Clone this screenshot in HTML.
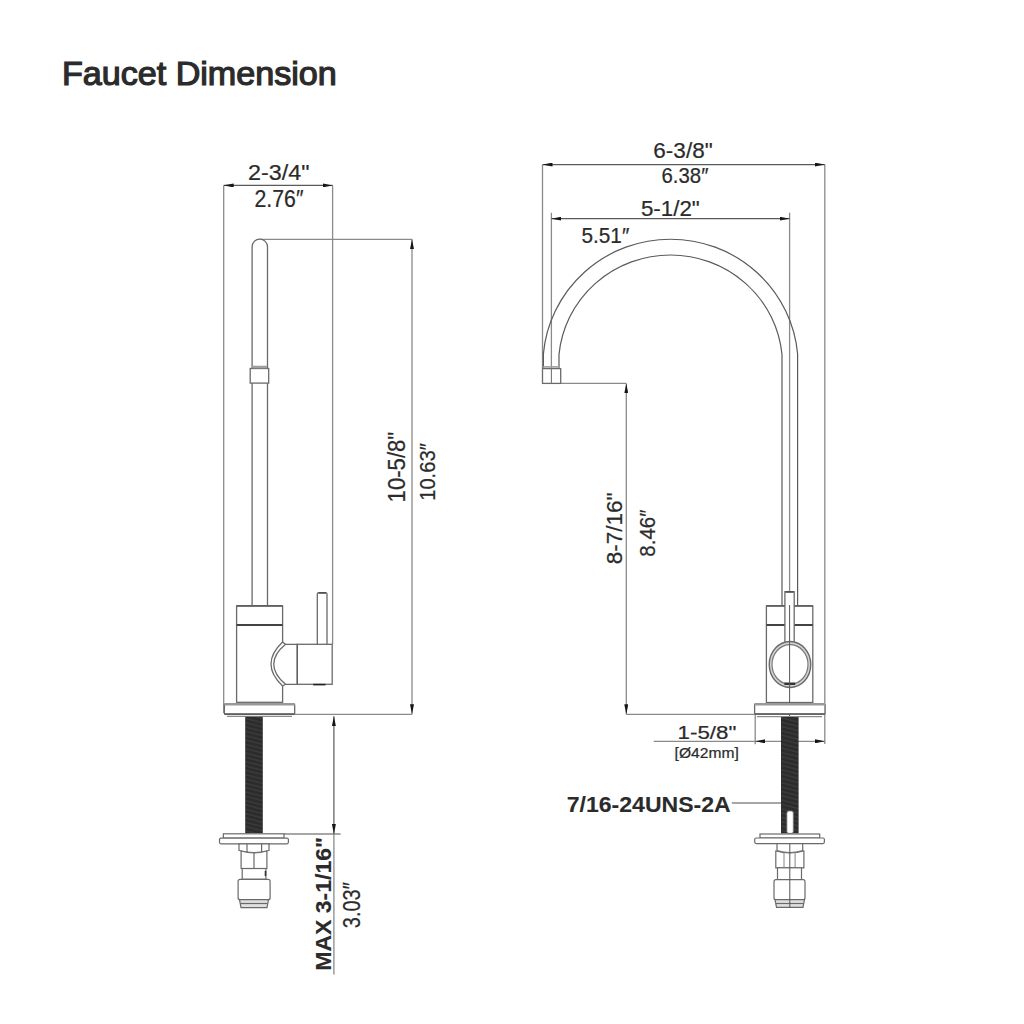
<!DOCTYPE html>
<html><head><meta charset="utf-8">
<style>
html,body{margin:0;padding:0;background:#fff;}
body{width:1024px;height:1024px;overflow:hidden;}
svg{display:block;}
text{font-family:"Liberation Sans",sans-serif;fill:#2b2b2b;}
</style></head><body>
<svg width="1024" height="1024" viewBox="0 0 1024 1024">
<defs>
<marker id="ar" viewBox="0 0 10 4" refX="10" refY="2" markerWidth="10" markerHeight="4" markerUnits="userSpaceOnUse" orient="auto">
<path d="M0,0 L10,2 L0,4 Z" fill="#161616"/>
</marker>
<marker id="al" viewBox="0 0 10 4" refX="0" refY="2" markerWidth="10" markerHeight="4" markerUnits="userSpaceOnUse" orient="auto">
<path d="M10,0 L0,2 L10,4 Z" fill="#161616"/>
</marker>
<pattern id="thr" width="17.6" height="4.2" patternUnits="userSpaceOnUse" patternTransform="rotate(14)">
<rect width="17.6" height="4.2" fill="#2c2c2c"/>
<rect y="3" width="17.6" height="0.9" fill="#424242"/>
</pattern>
</defs>

<!-- ============ LEFT FAUCET ============ -->
<g fill="none" stroke="#8a8a8a" stroke-width="1.3">
  <line x1="223.7" y1="185.4" x2="223.7" y2="713"/>
  <line x1="332.6" y1="185.4" x2="332.6" y2="644"/>
  <line x1="259" y1="239.3" x2="412" y2="239.3"/>
  <line x1="294.7" y1="714.3" x2="412" y2="714.3"/>
  <line x1="284" y1="834" x2="340.6" y2="834"/>
  <line x1="333.9" y1="834" x2="333.9" y2="974.5"/>
</g>
<g fill="none" stroke="#5a5a5a" stroke-width="1.2">
  <line x1="223.7" y1="185.4" x2="332.6" y2="185.4" marker-start="url(#al)" marker-end="url(#ar)"/>
  <line x1="412" y1="239.3" x2="412" y2="714.3" marker-start="url(#al)" marker-end="url(#ar)" stroke="#8a8a8a" stroke-width="1.3"/>
  <line x1="333.9" y1="716.2" x2="333.9" y2="834" marker-start="url(#al)" marker-end="url(#ar)"/>
</g>
<g fill="#fff" stroke="#6a6a6a" stroke-width="1.3">
  <!-- spout tube -->
  <path d="M252.1,605 L252.1,246.8 A7.7,7.7 0 0 1 267.5,246.8 L267.5,605"/>
  <rect x="250.2" y="368.5" width="18.5" height="14.6"/>
  <line x1="252.5" y1="367" x2="267" y2="367" stroke="#a0a0a0" stroke-width="2.6"/>
  <!-- body -->
  <rect x="236.6" y="605.9" width="46" height="96.4"/>
  <line x1="236.6" y1="605.9" x2="282.6" y2="605.9" stroke-width="1.7" stroke="#606060"/>
  <line x1="236.6" y1="625.1" x2="282.6" y2="625.1" stroke-width="2" stroke="#444"/>
  <!-- lever -->
  <path d="M317.3,644 L317.3,594 Q317.3,592.7 319,592.7 L325.5,592.7 Q327,592.7 327,594 L327,644"/>
  <line x1="318.5" y1="593" x2="326" y2="593" stroke="#444" stroke-width="1.4"/>
  <!-- handle block -->
  <rect x="297" y="644.3" width="35.2" height="40"/>
  <line x1="297" y1="644.3" x2="297" y2="684.3" stroke-width="2" stroke="#555"/>
  <line x1="313.2" y1="684.6" x2="325.5" y2="684.6" stroke-width="1.6" stroke="#222"/>
  <!-- connector -->
  <path d="M282.6,642 L285.5,644.3 L297,644.3 L297,684.3 L285.5,684.3 L282.6,686 Q259.4,664 282.6,642 Z"/>
  <path d="M285.5,644.3 Q262,664 285.5,684.3" fill="none"/>
  <!-- base plate -->
  <rect x="224.4" y="704" width="70.3" height="10.3" rx="1"/>
  <line x1="224.4" y1="704.3" x2="294.7" y2="704.3" stroke="#999" stroke-width="2.4"/>
  <line x1="224.4" y1="714" x2="294.7" y2="714" stroke="#5a5a5a" stroke-width="1.4"/>
  <line x1="227" y1="716.4" x2="292" y2="716.4" stroke="#8a8a8a"/>
</g>
<!-- rod -->
<rect x="245.2" y="716.8" width="17.6" height="116.4" fill="url(#thr)"/>
<!-- fitting left -->
<g fill="#fff" stroke="#6a6a6a" stroke-width="1.2">
  <rect x="223.4" y="833.8" width="60.6" height="4.3"/>
  <rect x="219.5" y="838.1" width="68.9" height="5.7" rx="1.5"/>
  <path d="M239,843.8 L269,843.8 L269,850.5 Q254,854.5 239,850.5 Z"/>
  <line x1="247" y1="843.8" x2="247" y2="852"/>
  <line x1="261.6" y1="843.8" x2="261.6" y2="852"/>
  <path d="M241.1,851 Q254,855 266.9,851 L266.9,868.5 L241.1,868.5 Z"/>
  <line x1="254" y1="853" x2="254" y2="868.5"/>
  <rect x="242.2" y="868.5" width="23.7" height="10.8"/>
  <line x1="265.5" y1="871" x2="265.5" y2="876" stroke="#333" stroke-width="1.6"/>
  <rect x="238.1" y="879.3" width="32" height="20.4" rx="2"/>
  <path d="M239.5,899.7 L268.5,899.7 L267,907.7 L241,907.7 Z" fill="#e0e0e0"/>
  <line x1="240.5" y1="903.5" x2="267.5" y2="903.5"/>
</g>

<!-- ============ RIGHT FAUCET ============ -->
<g fill="none" stroke="#8a8a8a" stroke-width="1.3">
  <line x1="542.5" y1="164.6" x2="542.5" y2="368"/>
  <line x1="824.8" y1="164.6" x2="824.8" y2="744"/>
  <line x1="551.4" y1="212.8" x2="551.4" y2="383.4"/>
  <line x1="789.6" y1="212.8" x2="789.6" y2="605"/>
  <line x1="542.5" y1="383.4" x2="626.3" y2="383.4"/>
  <line x1="626.3" y1="714.3" x2="754.6" y2="714.3"/>
  <line x1="755.2" y1="715" x2="755.2" y2="744.3"/>
  <line x1="653.7" y1="741.3" x2="755.2" y2="741.3"/>
  <line x1="731.8" y1="803" x2="781" y2="803"/>
</g>
<g fill="none" stroke="#5a5a5a" stroke-width="1.2">
  <line x1="542.5" y1="164.6" x2="824.8" y2="164.6" marker-start="url(#al)" marker-end="url(#ar)"/>
  <line x1="551.4" y1="218.7" x2="789.6" y2="218.7" marker-start="url(#al)" marker-end="url(#ar)"/>
  <line x1="626.3" y1="383.4" x2="626.3" y2="714.3" marker-start="url(#al)" marker-end="url(#ar)" stroke="#8a8a8a" stroke-width="1.3"/>
  <line x1="755.2" y1="741.3" x2="824.8" y2="741.3" marker-start="url(#al)" marker-end="url(#ar)" stroke="#8a8a8a"/>
</g>
<g fill="none" stroke="#5a5a5a" stroke-width="1.2">
  <path d="M543.4,368 L543.4,353.9 A127.6,125.8 0 0 1 797.6,353.9 L797.6,605"/>
  <path d="M559,368 L559,354.6 A112,110 0 0 1 782,354.6 L782,605"/>
</g>
<g fill="#fff" stroke="#6a6a6a" stroke-width="1.3">
  <rect x="542.5" y="368.6" width="18.2" height="14.8"/>
  <line x1="543" y1="366.9" x2="560" y2="366.9" stroke="#a0a0a0" stroke-width="1.6"/>
  <line x1="551.4" y1="368.6" x2="551.4" y2="383.4" stroke="#777" stroke-width="1.1"/>
  <!-- body -->
  <rect x="766.4" y="605.9" width="46.4" height="96.6"/>
  <line x1="766.4" y1="605.9" x2="812.8" y2="605.9" stroke-width="1.7" stroke="#606060"/>
  <line x1="766.4" y1="625" x2="812.8" y2="625" stroke-width="2" stroke="#444"/>
  <!-- lever -->
  <rect x="784.9" y="591.7" width="9.3" height="52" />
  <line x1="785.5" y1="592" x2="793.6" y2="592" stroke="#444" stroke-width="1.4"/>
  <!-- circle -->
  <ellipse cx="790" cy="664.5" rx="20.75" ry="23" stroke-width="1.4" fill="#d4d4d4"/>
  <ellipse cx="790" cy="664.5" rx="18" ry="19.8" stroke="#7a7a7a" stroke-width="1.2" fill="#fff"/>
  <rect x="784.4" y="682.5" width="10.8" height="2.5" fill="#333" stroke="none"/>
  <line x1="789.6" y1="605" x2="789.6" y2="716" stroke="#555" stroke-width="1"/>
  <!-- base plate -->
  <rect x="754.6" y="704" width="70.4" height="10.2" rx="1"/>
  <line x1="754.6" y1="704.3" x2="825" y2="704.3" stroke="#999" stroke-width="2.4"/>
  <line x1="754.6" y1="714" x2="825" y2="714" stroke="#5a5a5a" stroke-width="1.4"/>
  <line x1="757" y1="716.7" x2="822" y2="716.7" stroke="#8a8a8a"/>
</g>
<!-- rod right -->
<rect x="781" y="717" width="17.6" height="116.4" fill="url(#thr)"/>
<rect x="786.9" y="811" width="6.4" height="22.4" rx="2" fill="#fff" stroke="#777" stroke-width="0.8"/>
<g fill="#fff" stroke="#6a6a6a" stroke-width="1.2">
  <rect x="760" y="834" width="59.7" height="4"/>
  <rect x="754.7" y="838" width="69.7" height="5.6" rx="1.5"/>
  <path d="M777,843.6 L802.7,843.6 L802.7,850.5 Q789.8,854.5 777,850.5 Z"/>
  <path d="M775.8,851 Q789.8,855 803.9,851 L803.9,867.8 L775.8,867.8 Z"/>
  <line x1="784" y1="853" x2="784" y2="867.8" stroke="#999"/>
  <line x1="795.1" y1="853" x2="795.1" y2="867.8" stroke="#999"/>
  <rect x="777.5" y="867.8" width="24" height="11.9"/>
  <rect x="774" y="879.7" width="31" height="20" rx="2"/>
  <path d="M775,899.7 L804.5,899.7 L803,907.3 L776.5,907.3 Z" fill="#e0e0e0"/>
  <line x1="776" y1="903.5" x2="803.5" y2="903.5"/>
  <line x1="789.8" y1="843.6" x2="789.8" y2="907.3" stroke="#555" stroke-width="1"/>
</g>
<text x="61.90" y="84.78" font-size="32.70" textLength="274.93" lengthAdjust="spacingAndGlyphs" fill="#2b2b2b" stroke="#2b2b2b" stroke-width="1.20">Faucet Dimension</text>
<text x="247.98" y="180.28" font-size="22.91" textLength="61.45" lengthAdjust="spacingAndGlyphs" fill="#2b2b2b" stroke="#2b2b2b" stroke-width="0.22">2-3/4"</text>
<text x="254.48" y="206.77" font-size="23.05" textLength="48.99" lengthAdjust="spacingAndGlyphs" fill="#2b2b2b" stroke="#2b2b2b" stroke-width="0.22">2.76″</text>
<text transform="translate(404.77,502.40) rotate(-90)" font-size="23.01" textLength="70.64" lengthAdjust="spacingAndGlyphs" fill="#2b2b2b" stroke="#2b2b2b" stroke-width="0.22">10-5/8"</text>
<text transform="translate(434.64,500.84) rotate(-90)" font-size="22.82" textLength="57.65" lengthAdjust="spacingAndGlyphs" fill="#2b2b2b" stroke="#2b2b2b" stroke-width="0.22">10.63″</text>
<text transform="translate(331.34,970.74) rotate(-90)" font-size="22.98" font-weight="bold" textLength="133.74" lengthAdjust="spacingAndGlyphs" fill="#2b2b2b" stroke="#2b2b2b" stroke-width="0.10">MAX 3-1/16"</text>
<text transform="translate(360.10,928.26) rotate(-90)" font-size="23.61" textLength="46.06" lengthAdjust="spacingAndGlyphs" fill="#2b2b2b" stroke="#2b2b2b" stroke-width="0.22">3.03″</text>
<text x="653.36" y="158.35" font-size="22.91" textLength="59.28" lengthAdjust="spacingAndGlyphs" fill="#2b2b2b" stroke="#2b2b2b" stroke-width="0.22">6-3/8"</text>
<text x="661.48" y="183.20" font-size="22.32" textLength="46.92" lengthAdjust="spacingAndGlyphs" fill="#2b2b2b" stroke="#2b2b2b" stroke-width="0.22">6.38″</text>
<text x="640.92" y="215.85" font-size="22.45" textLength="58.86" lengthAdjust="spacingAndGlyphs" fill="#2b2b2b" stroke="#2b2b2b" stroke-width="0.22">5-1/2"</text>
<text x="581.52" y="242.98" font-size="22.53" textLength="47.74" lengthAdjust="spacingAndGlyphs" fill="#2b2b2b" stroke="#2b2b2b" stroke-width="0.22">5.51″</text>
<text transform="translate(622.07,564.26) rotate(-90)" font-size="22.64" textLength="71.75" lengthAdjust="spacingAndGlyphs" fill="#2b2b2b" stroke="#2b2b2b" stroke-width="0.22">8-7/16"</text>
<text transform="translate(655.42,556.70) rotate(-90)" font-size="22.71" textLength="47.15" lengthAdjust="spacingAndGlyphs" fill="#2b2b2b" stroke="#2b2b2b" stroke-width="0.22">8.46″</text>
<text x="677.60" y="738.56" font-size="19.23" textLength="58.74" lengthAdjust="spacingAndGlyphs" fill="#2b2b2b" stroke="#2b2b2b" stroke-width="0.22">1-5/8"</text>
<text x="674.58" y="758.15" font-size="14.80" textLength="64.15" lengthAdjust="spacingAndGlyphs" fill="#2b2b2b" stroke="#2b2b2b" stroke-width="0.22">[Ø42mm]</text>
<text x="566.76" y="811.55" font-size="22.66" font-weight="bold" textLength="163.95" lengthAdjust="spacingAndGlyphs" fill="#2b2b2b" stroke="#2b2b2b" stroke-width="0.10">7/16-24UNS-2A</text>
</svg>
</body></html>
